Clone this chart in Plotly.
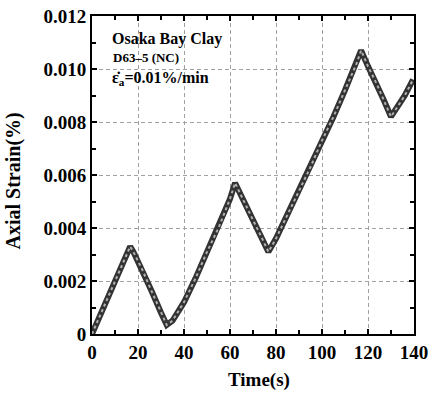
import plotly.graph_objects as go

time_s = [0, 4, 8, 12, 16.6, 18, 22, 26, 30, 32.5, 35, 40, 45, 50, 55, 60, 62.2,
          66, 70, 74, 76.7, 80, 85, 90, 95, 100, 105, 110, 115, 117,
          120, 124, 127, 130, 133, 136, 139.6]
axial_strain = [0.0, 0.0008, 0.0016, 0.0024, 0.0033, 0.0031, 0.0024, 0.0016, 0.0008, 0.00034,
                0.0005, 0.0012, 0.0021, 0.0031, 0.0040, 0.0051, 0.0057,
                0.0050, 0.0043, 0.0036, 0.0031, 0.0036, 0.0045, 0.0054, 0.0063, 0.0073,
                0.0082, 0.0092, 0.0102, 0.0107,
                0.0101, 0.0094, 0.0088, 0.0082, 0.0086, 0.0090, 0.0096]

x_ticks = [0, 20, 40, 60, 80, 100, 120, 140]
y_ticks = [0, 0.002, 0.004, 0.006, 0.008, 0.010, 0.012]
y_tick_labels = ["0", "0.002", "0.004", "0.006", "0.008", "0.010", "0.012"]

FONT = "Liberation Serif, Times New Roman, serif"

fig = go.Figure()
fig.add_trace(go.Scatter(x=time_s, y=axial_strain, mode="lines",
                         line=dict(color="#333333", width=6), hoverinfo="skip", showlegend=False))
fig.add_trace(go.Scatter(x=time_s, y=axial_strain, mode="lines",
                         line=dict(color="#b0b0b0", width=2, dash="dot"), showlegend=False))

fig.update_xaxes(range=[0, 140], tickvals=x_ticks, ticktext=[f"<b>{v}</b>" for v in x_ticks],
                 automargin=False,
                 showline=True, linecolor="black", linewidth=2, mirror="ticks",
                 ticks="inside", ticklen=5, tickcolor="black", tickwidth=1.5,
                 minor=dict(dtick=10, ticks="inside", ticklen=4, tickcolor="black", showgrid=False),
                 showgrid=True, gridcolor="#a0a0a0", griddash="4px,3px", gridwidth=1,
                 zeroline=False, tickfont=dict(family=FONT, size=19, color="black"))
fig.update_yaxes(range=[0, 0.012], tickvals=y_ticks, ticktext=[f"<b>{t}</b>" for t in y_tick_labels],
                 automargin=False,
                 showline=True, linecolor="black", linewidth=2, mirror="ticks",
                 ticks="inside", ticklen=5, tickcolor="black", tickwidth=1.5,
                 minor=dict(dtick=0.001, ticks="inside", ticklen=4, tickcolor="black", showgrid=False),
                 showgrid=True, gridcolor="#a0a0a0", griddash="4px,3px", gridwidth=1,
                 zeroline=False, tickfont=dict(family=FONT, size=19, color="black"))

# axis titles
fig.add_annotation(x=-0.245, y=0.48, xref="paper", yref="paper", xanchor="center", yanchor="middle",
                   text="<b>Axial Strain(%)</b>", textangle=-90, showarrow=False,
                   font=dict(family=FONT, size=20, color="black"))
fig.add_annotation(x=0.52, y=-0.145, xref="paper", yref="paper", xanchor="center", yanchor="middle",
                   text="<b>Time(s)</b>", showarrow=False,
                   font=dict(family=FONT, size=19, color="black"))

fig.add_annotation(x=0.055, y=0.963, xref="paper", yref="paper", xanchor="left", yanchor="top",
                   text="<b>Osaka Bay Clay</b>", showarrow=False,
                   font=dict(family=FONT, size=16, color="black"))
fig.add_annotation(x=0.058, y=0.9, xref="paper", yref="paper", xanchor="left", yanchor="top",
                   text="<b>D63–5 (NC)</b>", showarrow=False,
                   font=dict(family=FONT, size=13, color="black"))
fig.add_annotation(x=0.055, y=0.84, xref="paper", yref="paper", xanchor="left", yanchor="top",
                   text="<b>ε̇<sub>a</sub>=0.01%/min</b>", showarrow=False,
                   font=dict(family=FONT, size=16, color="black"))

fig.update_layout(width=434, height=395, margin=dict(l=92, r=20, t=16, b=61),
                  paper_bgcolor="white", plot_bgcolor="white")
fig.write_html("out.html", config={"displayModeBar": False},
               post_script="document.body.style.margin='0px';document.body.style.overflow='hidden';")
